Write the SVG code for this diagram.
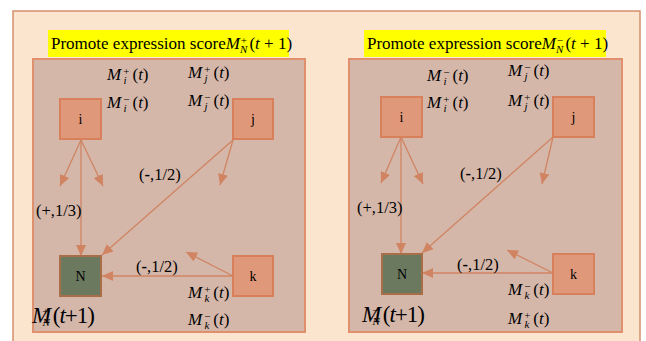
<svg xmlns="http://www.w3.org/2000/svg" width="646" height="341" viewBox="0 0 646 341" font-family="'Liberation Serif','Times New Roman',serif">
<style>
.bg{fill:#fbe5cf;stroke:#d4906e;stroke-width:1.5}
.panel{fill:#d5b7aa;stroke:#e0906c;stroke-width:2}
.hl{fill:#ffff00}
.nd{fill:#e0987a;stroke:#d8805c;stroke-width:2}
.nn{fill:#6b7a5f;stroke:#a86e48;stroke-width:2}
text{font-family:'Liberation Serif','Times New Roman',serif;fill:#000}
.t{font-size:17px}
.lb{font-size:16.5px}
.m{font-size:17px}
.it{font-style:italic}
.s{font-size:11px}
.nl{font-size:14px;text-anchor:middle}
.big{font-size:23px;letter-spacing:-1px}
.e{stroke:#d08462;stroke-width:1.3;fill:none;marker-end:url(#ah)}
</style>
<defs>
<marker id="ah" markerUnits="userSpaceOnUse" markerWidth="12" markerHeight="10" refX="11" refY="5" orient="auto">
<path d="M0,0 L11,5 L0,10 Z" fill="#d08462"/>
</marker>
</defs>
<rect class="bg" x="13" y="11" width="627" height="340"/>

<g id="left-panel">
<rect class="panel" x="33" y="59" width="272" height="273"/>
<rect class="hl" x="48" y="30" width="241" height="27"/>
<text class="t" x="51" y="49">Promote expression score<tspan class="it">M</tspan><tspan class="s" dx="1" dy="-5">+</tspan><tspan class="s it" dx="-7" dy="9">N</tspan><tspan dx="2" dy="-4">(</tspan><tspan class="it">t</tspan> + 1)</text>
</g>
<g id="right-panel">
<rect class="panel" x="349" y="59" width="273" height="273"/>
<rect class="hl" x="364" y="30" width="242" height="27"/>
<text class="t" x="367" y="49">Promote expression score<tspan class="it">M</tspan><tspan class="s" dx="1" dy="-5">−</tspan><tspan class="s it" dx="-7" dy="9">N</tspan><tspan dx="2" dy="-4">(</tspan><tspan class="it">t</tspan> + 1)</text>
</g>

<g id="connectors">
<line class="e" x1="81" y1="140" x2="81" y2="256"/>
<line class="e" x1="81" y1="140" x2="60" y2="186"/>
<line class="e" x1="81" y1="140" x2="103" y2="186"/>
<line class="e" x1="233" y1="140" x2="102" y2="255"/>
<line class="e" x1="233" y1="140" x2="220" y2="185"/>
<line class="e" x1="233" y1="276" x2="102" y2="276"/>
<line class="e" x1="233" y1="276" x2="186" y2="252"/>

<line class="e" x1="401" y1="137" x2="401" y2="254"/>
<line class="e" x1="401" y1="137" x2="381" y2="183"/>
<line class="e" x1="401" y1="137" x2="423" y2="184"/>
<line class="e" x1="553" y1="137" x2="422" y2="253"/>
<line class="e" x1="553" y1="137" x2="542" y2="184"/>
<line class="e" x1="553" y1="273" x2="422" y2="273"/>
<line class="e" x1="553" y1="273" x2="507" y2="250"/>
</g>

<g id="L-i"><rect class="nd" x="60" y="99" width="41" height="40"/><text class="nl" x="80.5" y="124">i</text></g>
<g id="L-j"><rect class="nd" x="233" y="99" width="40" height="40"/><text class="nl" x="253" y="124">j</text></g>
<g id="L-N"><rect class="nn" x="60" y="256" width="41" height="40"/><text class="nl" x="80.5" y="281">N</text></g>
<g id="L-k"><rect class="nd" x="233" y="256" width="40" height="40"/><text class="nl" x="253" y="281">k</text></g>

<g id="R-i"><rect class="nd" x="381" y="97" width="41" height="40"/><text class="nl" x="401.5" y="122">i</text></g>
<g id="R-j"><rect class="nd" x="553" y="97" width="41" height="40"/><text class="nl" x="573.5" y="122">j</text></g>
<g id="R-N"><rect class="nn" x="382" y="254" width="40" height="40"/><text class="nl" x="402" y="279">N</text></g>
<g id="R-k"><rect class="nd" x="553" y="254" width="41" height="40"/><text class="nl" x="573.5" y="279">k</text></g>

<g id="labels">
<text class="lb" x="139" y="180">(<tspan font-weight="bold">-</tspan>,1/2)</text>
<text class="lb" x="36" y="216">(+,1/3)</text>
<text class="lb" x="136" y="272">(<tspan font-weight="bold">-</tspan>,1/2)</text>
<text class="lb" x="460" y="179">(<tspan font-weight="bold">-</tspan>,1/2)</text>
<text class="lb" x="357" y="213">(+,1/3)</text>
<text class="lb" x="457" y="270">(<tspan font-weight="bold">-</tspan>,1/2)</text>

<text class="m" x="107" y="80"><tspan class="it">M</tspan><tspan class="s" dx="2" dy="-5">+</tspan><tspan class="s it" dx="-6" dy="9">i</tspan><tspan dx="6" dy="-4">(</tspan><tspan class="it">t</tspan>)</text>
<text class="m" x="107" y="108"><tspan class="it">M</tspan><tspan class="s" dx="2" dy="-5">−</tspan><tspan class="s it" dx="-6" dy="9">i</tspan><tspan dx="6" dy="-4">(</tspan><tspan class="it">t</tspan>)</text>
<text class="m" x="188" y="78"><tspan class="it">M</tspan><tspan class="s" dx="2" dy="-5">+</tspan><tspan class="s it" dx="-6" dy="9">j</tspan><tspan dx="6" dy="-4">(</tspan><tspan class="it">t</tspan>)</text>
<text class="m" x="188" y="106"><tspan class="it">M</tspan><tspan class="s" dx="2" dy="-5">−</tspan><tspan class="s it" dx="-6" dy="9">j</tspan><tspan dx="6" dy="-4">(</tspan><tspan class="it">t</tspan>)</text>
<text class="m" x="188" y="298"><tspan class="it">M</tspan><tspan class="s" dx="2" dy="-5">+</tspan><tspan class="s it" dx="-6" dy="9">k</tspan><tspan dx="4" dy="-4">(</tspan><tspan class="it">t</tspan>)</text>
<text class="m" x="188" y="325"><tspan class="it">M</tspan><tspan class="s" dx="2" dy="-5">−</tspan><tspan class="s it" dx="-6" dy="9">k</tspan><tspan dx="4" dy="-4">(</tspan><tspan class="it">t</tspan>)</text>
<text class="big" x="32" y="323"><tspan class="it">M</tspan><tspan class="s" dx="-8" dy="-8">+</tspan><tspan class="s it" dx="-5" dy="11" letter-spacing="0">N</tspan><tspan dx="3" dy="-3">(</tspan><tspan class="it">t</tspan>+1)</text>

<text class="m" x="427" y="81"><tspan class="it">M</tspan><tspan class="s" dx="2" dy="-5">−</tspan><tspan class="s it" dx="-6" dy="9">i</tspan><tspan dx="6" dy="-4">(</tspan><tspan class="it">t</tspan>)</text>
<text class="m" x="427" y="108"><tspan class="it">M</tspan><tspan class="s" dx="2" dy="-5">+</tspan><tspan class="s it" dx="-6" dy="9">i</tspan><tspan dx="6" dy="-4">(</tspan><tspan class="it">t</tspan>)</text>
<text class="m" x="508" y="76"><tspan class="it">M</tspan><tspan class="s" dx="2" dy="-5">−</tspan><tspan class="s it" dx="-6" dy="9">j</tspan><tspan dx="6" dy="-4">(</tspan><tspan class="it">t</tspan>)</text>
<text class="m" x="508" y="106"><tspan class="it">M</tspan><tspan class="s" dx="2" dy="-5">+</tspan><tspan class="s it" dx="-6" dy="9">j</tspan><tspan dx="6" dy="-4">(</tspan><tspan class="it">t</tspan>)</text>
<text class="m" x="508" y="295"><tspan class="it">M</tspan><tspan class="s" dx="2" dy="-5">−</tspan><tspan class="s it" dx="-6" dy="9">k</tspan><tspan dx="4" dy="-4">(</tspan><tspan class="it">t</tspan>)</text>
<text class="m" x="508" y="324"><tspan class="it">M</tspan><tspan class="s" dx="2" dy="-5">+</tspan><tspan class="s it" dx="-6" dy="9">k</tspan><tspan dx="4" dy="-4">(</tspan><tspan class="it">t</tspan>)</text>
<text class="big" x="362" y="322"><tspan class="it">M</tspan><tspan class="s" dx="-8" dy="-8">−</tspan><tspan class="s it" dx="-5" dy="11" letter-spacing="0">N</tspan><tspan dx="3" dy="-3">(</tspan><tspan class="it">t</tspan>+1)</text>
</g>
</svg>
